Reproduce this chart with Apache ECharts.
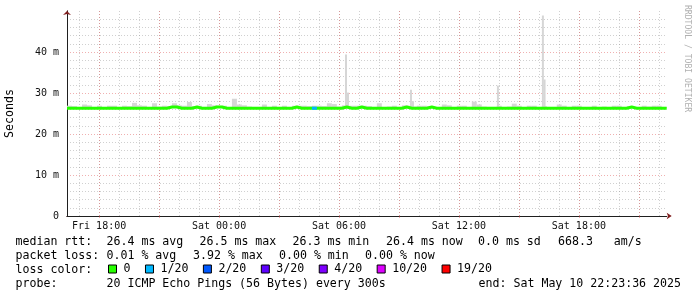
<!DOCTYPE html>
<html>
<head>
<meta charset="utf-8">
<script src="https://cdn.jsdelivr.net/npm/echarts@6/dist/echarts.min.js"></script>
<style>
  html, body { margin: 0; padding: 0; background: #fff; }
  #chart { width: 697px; height: 297px; }
</style>
</head>
<body>
<div id="chart"></div>
<script>
// time is in minutes since Fri 00:00
const tStart = 983.6;   // Fri 16:23:36
const tEnd = 2783.6;    // Sat 22:23:36
const binMinutes = 15;

const xLabelMinutes = [1080, 1440, 1800, 2160, 2520];
const xLabels = ["Fri 18:00", "Sat 00:00", "Sat 06:00", "Sat 12:00", "Sat 18:00"];

// median rtt per 15 min bin (ms)
const median = [
  26.3, 26.3, 26.3, 26.3, 26.3, 26.3, 26.3, 26.3, 26.3, 26.3,
  26.3, 26.3, 26.3, 26.3, 26.3, 26.3, 26.3, 26.3, 26.3, 26.3,
  26.6, 26.6, 26.3, 26.3, 26.3, 26.6, 26.3, 26.3, 26.3, 26.6,
  26.6, 26.3, 26.3, 26.3, 26.3, 26.3, 26.3, 26.3, 26.3, 26.3,
  26.3, 26.3, 26.3, 26.3, 26.3, 26.6, 26.3, 26.3, 26.3, 26.3,
  26.3, 26.3, 26.3, 26.3, 26.3, 26.6, 26.3, 26.3, 26.6, 26.3,
  26.3, 26.3, 26.3, 26.3, 26.3, 26.3, 26.3, 26.6, 26.3, 26.3,
  26.3, 26.3, 26.6, 26.3, 26.3, 26.3, 26.3, 26.3, 26.3, 26.3,
  26.3, 26.3, 26.3, 26.3, 26.3, 26.3, 26.3, 26.3, 26.3, 26.3,
  26.3, 26.3, 26.3, 26.3, 26.3, 26.3, 26.3, 26.3, 26.3, 26.3,
  26.3, 26.3, 26.3, 26.3, 26.3, 26.3, 26.3, 26.3, 26.3, 26.3,
  26.3, 26.3, 26.6, 26.3, 26.3, 26.3, 26.3, 26.3, 26.3, 26.3
];

// lost pings (of 20) per bin
const lossBins = [
  0, 0, 0, 0, 0, 0, 0, 0, 0, 0, 0, 0, 0, 0, 0, 0, 0, 0, 0, 0,
  0, 0, 0, 0, 0, 0, 0, 0, 0, 0, 0, 0, 0, 0, 0, 0, 0, 0, 0, 0,
  0, 0, 0, 0, 0, 0, 0, 0, 0, 1, 0, 0, 0, 0, 0, 0, 0, 0, 0, 0,
  0, 0, 0, 0, 0, 0, 0, 0, 0, 0, 0, 0, 0, 0, 0, 0, 0, 0, 0, 0,
  0, 0, 0, 0, 0, 0, 0, 0, 0, 0, 0, 0, 0, 0, 0, 0, 0, 0, 0, 0,
  0, 0, 0, 0, 0, 0, 0, 0, 0, 0, 0, 0, 0, 0, 0, 0, 0, 0, 0, 0
];

// top of the smoke per bin (ms)
const smokeTop = [
  26.9, 26.8, 26.6, 27.2, 27.0, 26.6, 26.9, 26.6, 26.9, 26.9,
  26.6, 26.9, 26.8, 27.6, 27.0, 26.9, 26.6, 27.5, 26.7, 26.9,
  26.8, 27.5, 27.0, 26.9, 27.8, 26.8, 26.9, 26.6, 27.3, 27.0,
  26.9, 26.9, 26.6, 28.6, 27.2, 27.0, 26.7, 26.6, 26.6, 27.2,
  26.6, 26.9, 26.6, 26.9, 26.6, 26.9, 26.9, 26.9, 26.8, 26.9,
  26.9, 26.8, 27.5, 27.3, 26.7, 27.0, 26.9, 26.9, 26.9, 26.9,
  26.8, 26.6, 27.5, 26.6, 26.7, 26.9, 26.6, 27.0, 26.9, 26.7,
  26.9, 26.9, 26.8, 26.6, 26.6, 27.2, 27.0, 26.6, 26.9, 26.9,
  26.6, 27.9, 27.2, 26.7, 26.6, 26.6, 26.9, 26.6, 26.7, 27.4,
  26.9, 26.6, 26.9, 26.9, 26.6, 26.8, 26.6, 26.6, 27.2, 26.9,
  26.6, 26.9, 26.9, 26.6, 26.6, 26.9, 26.6, 26.7, 26.6, 26.9,
  26.9, 26.6, 26.8, 26.6, 26.6, 26.9, 26.7, 26.9, 26.9, 26.6
];

// narrow spikes: [from minute, to minute, bottom ms, top ms]
const spikes = [
  [1818, 1824, 26.3, 39.4],
  [1824, 1830, 26.3, 30.1],
  [2013, 2019, 26.3, 30.8],
  [2019, 2025, 26.3, 28.0],
  [2274, 2280, 26.3, 31.8],
  [2409, 2415, 26.3, 48.9],
  [2415, 2420, 26.3, 33.3]
];

const lossLabels = ["0", "1/20", "2/20", "3/20", "4/20", "10/20", "19/20"];
const lossLevels = [0, 1, 2, 3, 4, 10, 19];
const lossColors = ["#26ff00", "#00b8ff", "#0059ff", "#5e00ff", "#7e00ff", "#dd00ff", "#ff0000"];

const legendRtt = ["median rtt:", "26.4 ms avg", "26.5 ms max", "26.3 ms min", "26.4 ms now", "0.0 ms sd", "668.3   am/s"];
const legendLoss = ["packet loss:", "0.01 % avg", "3.92 % max", "0.00 % min", "0.00 % now"];
const legendProbe = ["probe:", "20 ICMP Echo Pings (56 Bytes) every 300s"];
const legendEnd = "end: Sat May 10 22:23:36 2025";

const MONO = "'DejaVu Sans Mono', monospace";
const GRID_COL = "rgba(143,143,143,0.42)";
const MGRID_COL = "rgba(222,79,79,0.45)";

// grid lines every hour, major every 3 hours
const hourMarks = [];
const majorMarks = [];
for (let h = 17; h <= 46; h++) {
  hourMarks.push(h * 60);
  if (h % 3 === 0) majorMarks.push(h * 60);
}

// build series data
const medianData = median.map((v, i) => [tStart + i * binMinutes, v]);
medianData.push([tEnd, median[median.length - 1]]);

const smokeData = [];
smokeTop.forEach((top, i) => {
  if (top > median[i]) {
    const t0 = tStart + i * binMinutes;
    smokeData.push([t0, t0 + binMinutes, median[i], top]);
  }
});
spikes.forEach((s) => smokeData.push(s));

function lossSegments(level) {
  const out = [];
  lossBins.forEach((l, i) => {
    if (l === level && level > 0) {
      const t0 = tStart + i * binMinutes;
      out.push([t0, median[i]], [t0 + binMinutes, median[i]], null);
    }
  });
  return out;
}

const chartDom = document.getElementById("chart");
const myChart = echarts.init(chartDom, null, { renderer: "canvas" });

const textStyleLegend = { font: "11.6px " + MONO, fill: "#000", verticalAlign: "middle", textVerticalAlign: "middle" };

const rttX = [15.5, 106.5, 199.5, 292.5, 386, 478, 558];
const lossX = [15.5, 106.5, 193, 279, 365];
const probeX = [15.5, 106.5];

const graphics = [];
legendRtt.forEach((t, i) => graphics.push({ type: "text", x: rttX[i], y: 241.5, style: Object.assign({ text: t }, textStyleLegend) }));
legendLoss.forEach((t, i) => graphics.push({ type: "text", x: lossX[i], y: 255.5, style: Object.assign({ text: t }, textStyleLegend) }));
graphics.push({ type: "text", x: 15.5, y: 269.5, style: Object.assign({ text: "loss color:" }, textStyleLegend) });
legendProbe.forEach((t, i) => graphics.push({ type: "text", x: probeX[i], y: 283.5, style: Object.assign({ text: t }, textStyleLegend) }));
graphics.push({
  type: "text", x: 681, y: 283.5,
  style: Object.assign({ text: legendEnd, align: "right", textAlign: "right" }, textStyleLegend)
});
graphics.push({
  type: "text", x: 687, y: 5, rotation: -Math.PI / 2,
  style: { text: "RRDTOOL / TOBI OETIKER", font: "8.1px " + MONO, fill: "#b0b0b0",
    align: "left", textAlign: "left", verticalAlign: "middle", textVerticalAlign: "middle" }
});

const series = [
  {
    name: "smoke",
    type: "custom",
    data: smokeData,
    encode: { x: [0, 1], y: [2, 3] },
    renderItem: (params, api) => {
      const p0 = api.coord([api.value(0), api.value(3)]);
      const p1 = api.coord([api.value(1), api.value(2)]);
      return {
        type: "rect",
        shape: { x: p0[0], y: p0[1], width: p1[0] - p0[0], height: p1[1] - p0[1] },
        style: { fill: "#d6d6d6" }
      };
    },
    z: 1
  },
  {
    name: lossLabels[0],
    type: "line",
    color: lossColors[0],
    data: medianData,
    step: "end",
    symbol: "none",
    lineStyle: { width: 3, color: lossColors[0], cap: "butt" },
    z: 3
  }
];
for (let k = 1; k < lossLabels.length; k++) {
  series.push({
    name: lossLabels[k],
    type: "line",
    color: lossColors[k],
    data: lossSegments(lossLevels[k]),
    symbol: "none",
    connectNulls: false,
    lineStyle: { width: 3, color: lossColors[k], cap: "butt" },
    z: 4
  });
}

const option = {
  animation: false,
  backgroundColor: "#fff",
  grid: { left: 67, right: 30.3, top: 11, bottom: 81, outerBoundsMode: "none", containLabel: false },
  xAxis: [
    {
      type: "value", min: tStart, max: tEnd, position: "bottom",
      axisLine: { show: true, lineStyle: { color: "#801f1f", width: 1 },
        symbol: ["none", "arrow"], symbolSize: [5, 5], symbolOffset: [0, 5] },
      axisTick: { show: false, customValues: hourMarks },
      axisLabel: { show: false },
      splitLine: { show: true, lineStyle: { color: GRID_COL, type: [1, 2], width: 1 } }
    },
    {
      type: "value", min: tStart, max: tEnd, position: "bottom",
      axisLine: { show: true, lineStyle: { color: "#1f1f1f", width: 1 } },
      axisTick: { show: true, customValues: majorMarks, length: 2, lineStyle: { color: MGRID_COL } },
      axisLabel: {
        customValues: xLabelMinutes,
        formatter: (v) => { const i = xLabelMinutes.indexOf(v); return i >= 0 ? xLabels[i] : ""; },
        fontFamily: MONO, fontSize: 10, color: "#111", margin: 5
      },
      splitLine: { show: true, lineStyle: { color: MGRID_COL, type: [1, 2], width: 1 } }
    }
  ],
  yAxis: [
    {
      type: "value", min: 0, max: 50, interval: 10, position: "left",
      axisLine: { show: true, lineStyle: { color: "#801f1f", width: 1 },
        symbol: ["none", "arrow"], symbolSize: [6, 4], symbolOffset: [0, 0] },
      axisTick: { show: false },
      axisLabel: { show: false },
      splitLine: { show: false },
      minorTick: { show: false, splitNumber: 5 },
      minorSplitLine: { show: true, lineStyle: { color: GRID_COL, type: [1, 2], width: 1 } }
    },
    {
      type: "value", min: 0, max: 50, interval: 10, position: "left",
      name: "Seconds", nameLocation: "middle", nameGap: 51, nameRotate: 90,
      nameTextStyle: { fontFamily: MONO, fontSize: 11.6, color: "#000" },
      axisLine: { show: true, lineStyle: { color: "#1f1f1f", width: 1 } },
      axisTick: { show: false },
      axisLabel: {
        formatter: (v) => (v === 0 ? "0" : v + " m"),
        showMaxLabel: false,
        fontFamily: MONO, fontSize: 10, color: "#111", margin: 8
      },
      splitLine: { show: true, showMinLine: false, showMaxLine: false,
        lineStyle: { color: MGRID_COL, type: [1, 2], width: 1 } }
    }
  ],
  legend: {
    data: lossLabels,
    left: 108,
    top: 263,
    padding: 0,
    itemWidth: 8,
    itemHeight: 8,
    itemGap: 14.5,
    icon: "rect",
    selectedMode: false,
    itemStyle: { borderColor: "#000", borderWidth: 1 },
    textStyle: { fontFamily: MONO, fontSize: 11.6, color: "#000", padding: [0, 0, 0, 2] }
  },
  graphic: graphics,
  series: series
};

myChart.setOption(option);
</script>
</body>
</html>
